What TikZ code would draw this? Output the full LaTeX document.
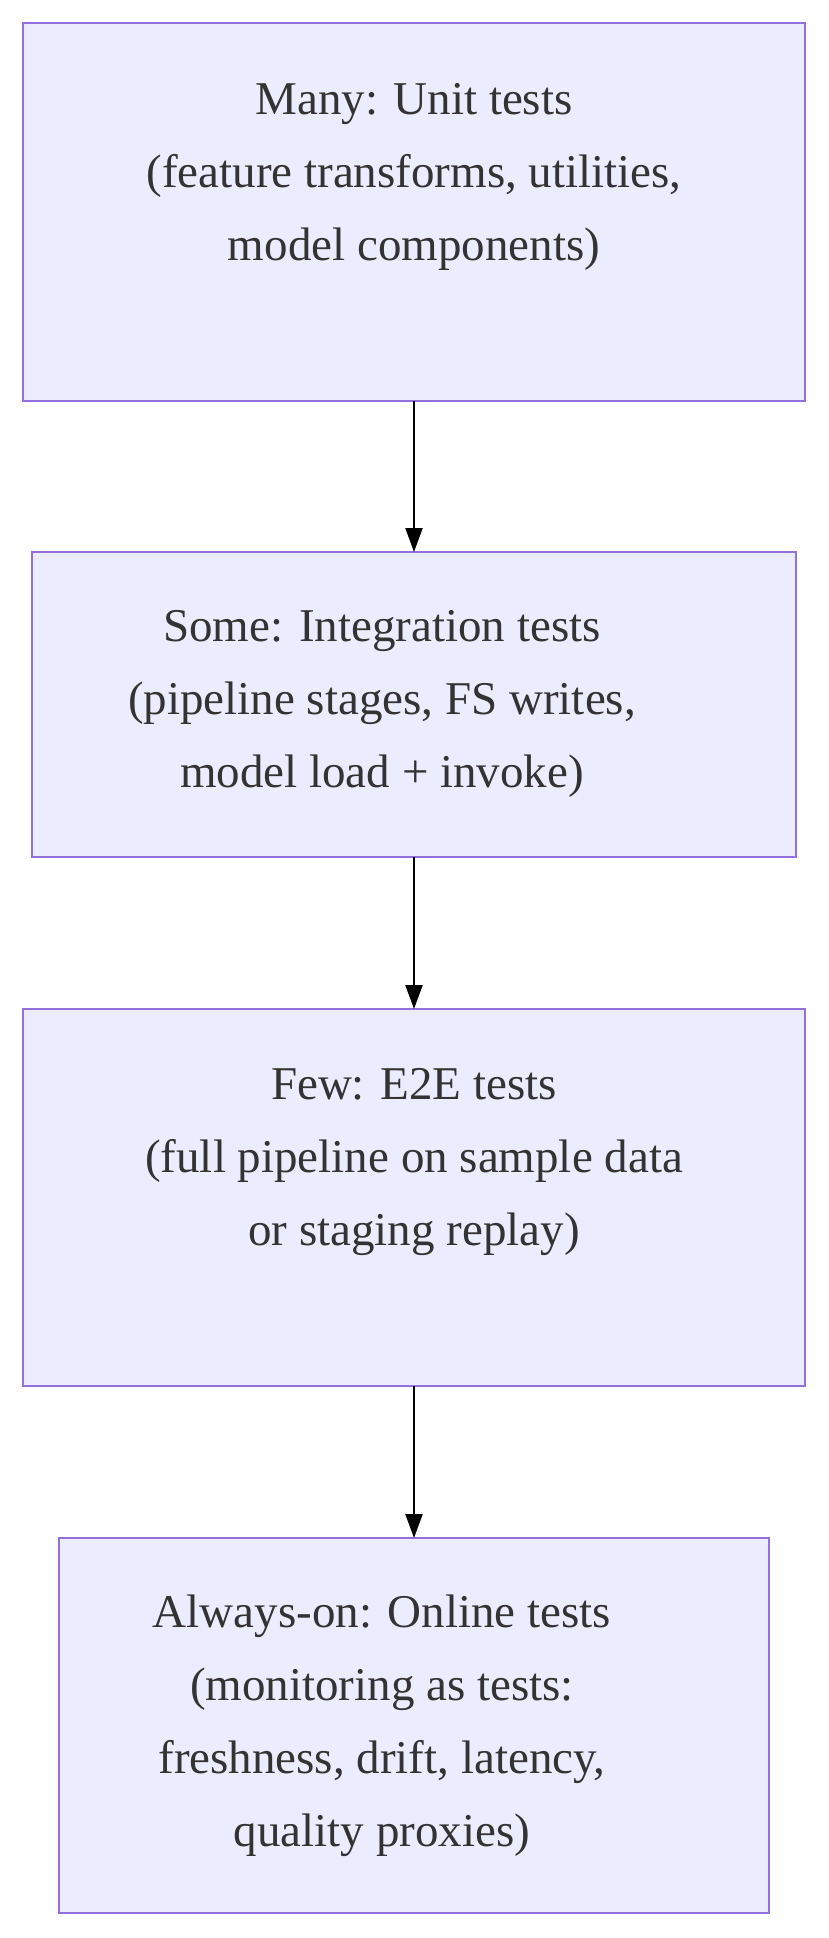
\documentclass[tikz,border=0pt]{standalone}
\usepackage{fontspec}
\setmainfont{Liberation Serif}
\usetikzlibrary{arrows.meta}
\definecolor{boxfill}{HTML}{ECECFF}
\definecolor{boxline}{HTML}{9370DB}
\definecolor{txt}{HTML}{333333}
\begin{document}
\begin{tikzpicture}[x=1pt,y=-1pt,
  box/.style={draw=boxline,fill=boxfill,line width=2.6pt},
  lbl/.style={align=center,text=txt,font=\fontsize{47}{73}\selectfont},
  arr/.style={-{Triangle[length=24pt,width=17pt]},line width=2.2pt}]
\useasboundingbox (0,0) rectangle (828,1938);
\draw[box] (23,23) rectangle (805,401);
\coordinate (b1b) at (414,401);
\draw[box] (32,552) rectangle (796,857);
\coordinate (b2t) at (414,552); \coordinate (b2b) at (414,857);
\draw[box] (23,1009) rectangle (805,1386);
\coordinate (b3t) at (414,1009); \coordinate (b3b) at (414,1386);
\draw[box] (59,1538) rectangle (769,1913);
\coordinate (b4t) at (414,1538);
\node[lbl] (t1) at (414,177) {Many: Unit tests\\(feature transforms, utilities,\\model components)};
\node[lbl] (t2) at (382,704) {Some: Integration tests\\(pipeline stages, FS writes,\\model load + invoke)};
\node[lbl] (t3) at (414,1162) {Few: E2E tests\\(full pipeline on sample data\\or staging replay)};
\node[lbl] (t4) at (382,1726) {Always-on: Online tests\\(monitoring as tests:\\freshness, drift, latency,\\quality proxies)};
\draw[arr] (b1b) -- (b2t);
\draw[arr] (b2b) -- (b3t);
\draw[arr] (b3b) -- (b4t);
\end{tikzpicture}
\end{document}
